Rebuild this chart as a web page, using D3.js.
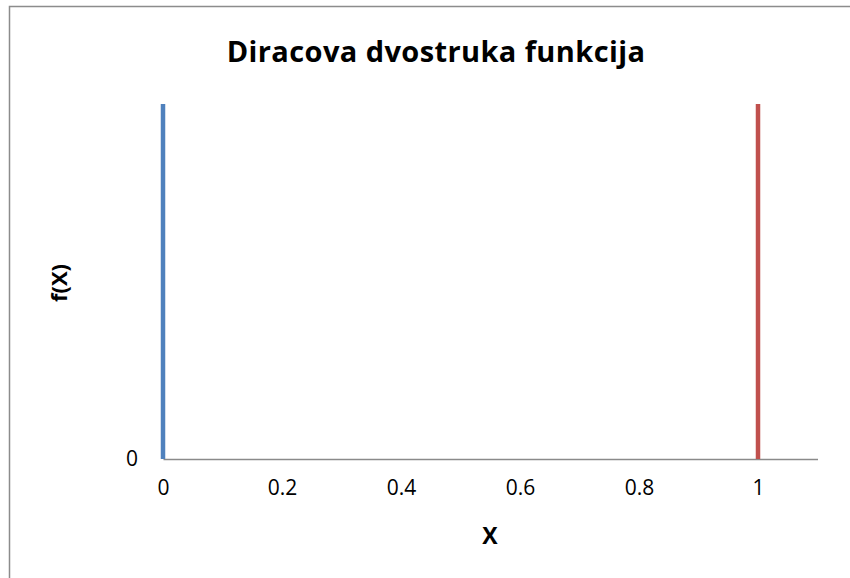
<!DOCTYPE html>
<html><head><meta charset="utf-8">
<script src="https://cdn.jsdelivr.net/npm/d3@7"></script>
<style>body{margin:0;background:#fff}svg{display:block}</style>
</head><body>
<svg id="c" width="850" height="578"></svg>
<script>
const title = "Diracova dvostruka funkcija";
const xLabel = "X";
const yLabel = "f(X)";
const xTicks = [0, 0.2, 0.4, 0.6, 0.8, 1];
const yTicks = [0];
const seriesA = [{x: 0, y: 0}, {x: 0, y: 1}];
const seriesB = [{x: 1, y: 0}, {x: 1, y: 1}];
const colors = ["#4F81BD", "#C0504D"];

const svg = d3.select("#c");
const font = "'Open Sans', 'Liberation Sans', sans-serif";
svg.append("rect").attr("x", 9.5).attr("y", 6.5).attr("width", 860).attr("height", 600)
  .attr("fill", "#fff").attr("stroke", "#8c8c8c").attr("stroke-width", 1.5);

const x = d3.scaleLinear().domain([0, 1.1]).range([163, 817.5]);
const y = d3.scaleLinear().domain([0, 1]).range([459, 104]);

const xAxis = d3.axisBottom(x).tickValues(xTicks).tickSize(0).tickPadding(21)
  .tickFormat(d => d3.format("")(d));
const gx = svg.append("g").attr("transform", `translate(0,${y(0)})`).call(xAxis);
gx.select(".domain").attr("stroke", "#8a8a8a").attr("stroke-width", 1.5);
gx.selectAll("text").attr("font-family", font).attr("font-size", 21).attr("fill", "#000");

const yAxis = d3.axisLeft(y).tickValues(yTicks).tickSize(0).tickPadding(25)
  .tickFormat(d => d3.format("")(d));
const gy = svg.append("g").attr("transform", `translate(${x(0)},0)`).call(yAxis);
gy.select(".domain").remove();
gy.selectAll("text").attr("font-family", font).attr("font-size", 21).attr("fill", "#000");

const line = d3.line().x(d => x(d.x)).y(d => y(d.y));
[seriesA, seriesB].forEach((s, i) => {
  svg.append("path").datum(s).attr("d", line).attr("fill", "none")
    .attr("stroke", colors[i]).attr("stroke-width", 4.5).attr("stroke-linecap", "butt");
});

svg.append("text").attr("x", 436).attr("y", 62).attr("text-anchor", "middle")
  .attr("font-family", font).attr("font-weight", "bold").attr("font-size", 29)
  .attr("letter-spacing", 0.4).text(title);
svg.append("text").attr("x", 490).attr("y", 544).attr("text-anchor", "middle")
  .attr("font-family", font).attr("font-weight", "bold").attr("font-size", 23).text(xLabel);
svg.append("text").attr("transform", "translate(67,283) rotate(-90)").attr("text-anchor", "middle")
  .attr("font-family", font).attr("font-weight", "bold").attr("font-size", 22).text(yLabel);
</script>
</body></html>
